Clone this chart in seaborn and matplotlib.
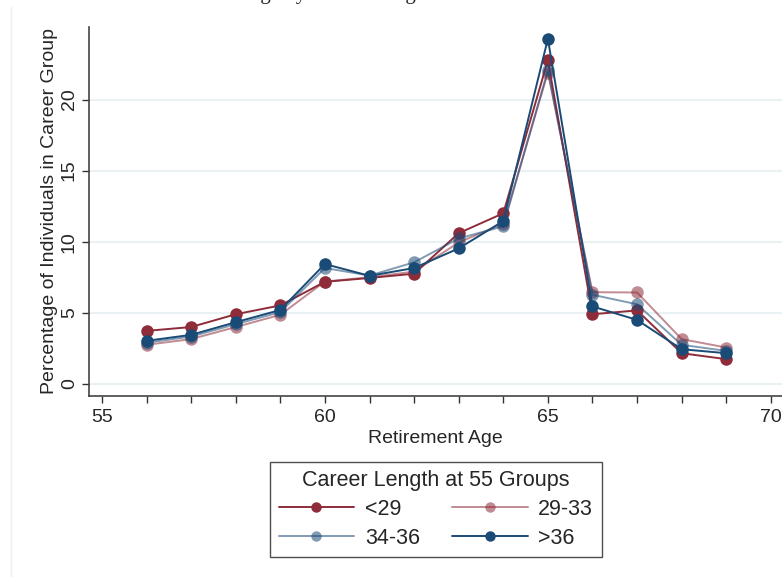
import matplotlib
matplotlib.use("Agg")
import matplotlib.pyplot as plt
from matplotlib.ticker import MultipleLocator
from matplotlib.lines import Line2D
import pandas as pd
import seaborn as sns

ages = [56, 57, 58, 59, 60, 61, 62, 63, 64, 65, 66, 67, 68, 69]
lt29 = [3.73, 4.0, 4.9, 5.52, 7.18, 7.45, 7.75, 10.6, 12.0, 22.77, 4.9, 5.17, 2.16, 1.74]
g29_33 = [2.75, 3.15, 4.0, 4.86, 7.2, 7.5, 7.9, 9.95, 11.27, 21.9, 6.45, 6.43, 3.15, 2.56]
g34_36 = [2.9, 3.33, 4.2, 5.05, 8.15, 7.62, 8.55, 10.23, 11.08, 22.07, 6.27, 5.6, 2.75, 2.32]
gt36 = [3.03, 3.45, 4.34, 5.2, 8.43, 7.6, 8.15, 9.53, 11.45, 24.27, 5.45, 4.5, 2.44, 2.16]

group_labels = ["<29", "29-33", "34-36", ">36"]
y_ticks = [0, 5, 10, 15, 20]
red = "#8e2c3a"
navy = "#1a4a76"
styles = {"<29": (red, 1.0), "29-33": (red, 0.55), "34-36": (navy, 0.55), ">36": (navy, 1.0)}

df = pd.DataFrame({"age": ages, "<29": lt29, "29-33": g29_33, "34-36": g34_36, ">36": gt36})
long = df.melt(id_vars="age", var_name="group", value_name="pct")

sns.set_style("white")
plt.rcParams["font.family"] = ["Liberation Sans", "DejaVu Sans"]

fig = plt.figure(figsize=(7.82, 5.77), dpi=100)
ax = fig.add_axes([89 / 782, 1 - 396 / 577, 1 - 89 / 782, (396 - 27) / 577])

for g in group_labels:
    col, a = styles[g]
    sns.lineplot(data=long[long.group == g], x="age", y="pct", ax=ax, color=col, alpha=a,
                 marker="o", markersize=9, markeredgewidth=0, linewidth=1.4, legend=False)

ax.set_xlim(54.71, 70.25)
ax.set_ylim(-0.85, 25.1)
ax.xaxis.set_major_locator(MultipleLocator(5))
ax.xaxis.set_minor_locator(MultipleLocator(1))
ax.set_yticks(y_ticks)
ax.tick_params(axis="both", which="both", direction="out", length=5, width=1, color="#333333",
               bottom=True, left=True)
ax.tick_params(axis="x", labelsize=14, pad=4)
ax.tick_params(axis="y", labelsize=14, pad=3)
for t in ax.get_yticklabels():
    t.set_rotation(90)
    t.set_va("center")
ax.grid(axis="y", color="#eaf1f2", linewidth=1.5)
ax.grid(axis="x", visible=False)
ax.set_axisbelow(True)
for s in ["top", "right"]:
    ax.spines[s].set_visible(False)
for s in ["left", "bottom"]:
    ax.spines[s].set_color("#444444")
    ax.spines[s].set_linewidth(1.2)

ax.set_xlabel("Retirement Age", fontsize=14, labelpad=3)
ax.set_ylabel("Percentage of Individuals in Career Group", fontsize=14, labelpad=2)

# legend fills column-wise, so order gives rows: <29, 29-33 / 34-36, >36
order = ["<29", "34-36", "29-33", ">36"]
handles = [Line2D([], [], color=styles[g][0], alpha=styles[g][1], marker="o", markersize=7.5,
                  markeredgewidth=0, linewidth=1.4) for g in order]
leg = fig.legend(handles, order, title="Career Length at 55 Groups", ncol=2,
                 loc="center", bbox_to_anchor=(436 / 782, 1 - 509.5 / 577), fontsize=15.5,
                 title_fontsize=15.5, frameon=True, fancybox=False, edgecolor="#222222",
                 handlelength=3.5, columnspacing=1.5, handletextpad=0.5, borderpad=0.4,
                 labelspacing=0.35)
leg.get_frame().set_linewidth(1.0)

# page title, mostly cut off at the top as in the source
fig.text(148 / 782, 1 + 1 / 577, "Retirement Age by Career Length", fontsize=15,
         family="Liberation Serif", color="#222222", ha="left", va="baseline")
fig.add_artist(Line2D([11 / 782, 11 / 782], [0, 1 - 7 / 577], color="#eeeeee", linewidth=1))

fig.savefig("out.png", dpi=100)
